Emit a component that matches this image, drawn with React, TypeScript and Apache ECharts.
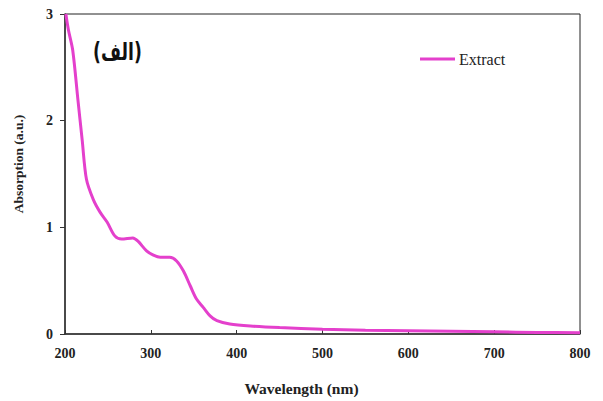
import React, { useEffect, useRef } from "react";
import * as echarts from "echarts";

const wavelengths = [201, 204, 209, 215, 220, 225, 233, 241, 249, 258, 266, 279, 285, 295, 303, 311, 322, 330, 338, 346, 353, 361, 369, 377, 392, 416, 450, 500, 550, 600, 650, 700, 750, 800];
const absorbance = [3.0, 2.85, 2.66, 2.2, 1.82, 1.45, 1.26, 1.14, 1.05, 0.92, 0.89, 0.9, 0.87, 0.78, 0.74, 0.72, 0.72, 0.685, 0.59, 0.45, 0.33, 0.25, 0.17, 0.125, 0.094, 0.075, 0.06, 0.045, 0.035, 0.03, 0.025, 0.02, 0.015, 0.012];
const seriesName = "Extract";
const panelLabel = "(الف)";
const xTitle = "Wavelength (nm)";
const yTitle = "Absorption (a.u.)";

export default function App() {
  const ref = useRef<HTMLDivElement>(null);
  useEffect(() => {
    if (!ref.current) return;
    const chart = echarts.init(ref.current, undefined, { renderer: "svg" });
    const font = "'Liberation Serif', 'Times New Roman', serif";
    chart.setOption({
      animation: false,
      backgroundColor: "#fff",
      grid: { left: 65, right: 23, top: 14, bottom: 66, show: true, borderColor: "#222", borderWidth: 1 },
      legend: {
        left: 420,
        top: 51,
        padding: 0,
        icon: "rect",
        itemWidth: 35,
        itemHeight: 3,
        itemGap: 4,
        textStyle: { fontFamily: font, fontSize: 16, color: "#222", padding: [0, 0, 0, -1] },
        data: [seriesName],
      },
      graphic: [
        {
          type: "text",
          x: 93,
          y: 40,
          scaleX: 0.72,
          style: { text: panelLabel, font: "bold 24px 'DejaVu Sans', sans-serif", fill: "#111" },
        },
      ],
      xAxis: {
        type: "value",
        min: 200,
        max: 800,
        interval: 100,
        name: xTitle,
        nameLocation: "middle",
        nameGap: 46,
        nameTextStyle: { fontFamily: font, fontWeight: "bold", fontSize: 15.5, color: "#222", padding: [0, 42, 0, 0] },
        axisLine: { lineStyle: { color: "#333", width: 1.5 } },
        axisTick: { inside: true, length: 4, lineStyle: { color: "#333" } },
        axisLabel: { fontFamily: font, fontWeight: "bold", fontSize: 14, color: "#222", margin: 12 },
        splitLine: { show: false },
      },
      yAxis: {
        type: "value",
        min: 0,
        max: 3,
        interval: 1,
        name: yTitle,
        nameLocation: "middle",
        nameGap: 40,
        nameTextStyle: { fontFamily: font, fontWeight: "bold", fontSize: 13.5, color: "#222", padding: [0, 0, 0, 20] },
        axisLine: { show: true, lineStyle: { color: "#333", width: 1.5 } },
        axisTick: { show: true, inside: false, length: 5, lineStyle: { color: "#333" } },
        axisLabel: { fontFamily: font, fontWeight: "bold", fontSize: 14, color: "#222", margin: 12 },
        splitLine: { show: false },
      },
      series: [
        {
          name: seriesName,
          type: "line",
          data: wavelengths.map((w, i) => [w, absorbance[i]]),
          smooth: 0.3,
          showSymbol: false,
          lineStyle: { color: "#E440CC", width: 3 },
          itemStyle: { color: "#E440CC" },
        },
      ],
    });
    return () => chart.dispose();
  }, []);
  return <div ref={ref} style={{ position: "fixed", left: 0, top: 0, width: 603, height: 401 }} />;
}
